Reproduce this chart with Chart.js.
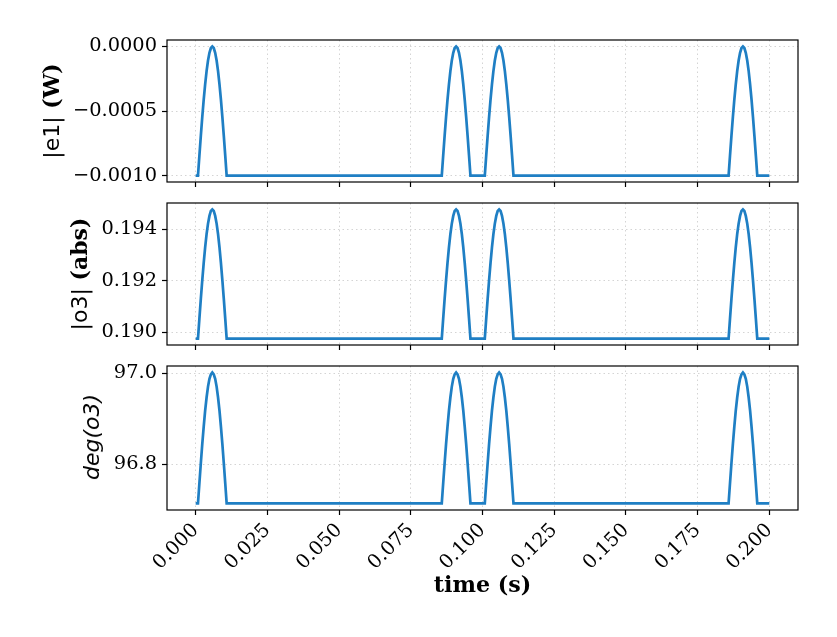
<!DOCTYPE html>
<html>
<head>
<meta charset="utf-8">
<script src="https://cdn.jsdelivr.net/npm/chart.js@4/dist/chart.umd.min.js"></script>
<style>
  body { margin: 0; background: #fff; }
  #wrap { position: relative; width: 837px; height: 637px; overflow: hidden; }
  canvas { position: absolute; left: 0; top: 0; }
  .ylab { position: absolute; white-space: nowrap; line-height: 1; font-size: 22px; color: #000;
          transform: translate(-50%, -50%) rotate(-90deg); }
  .sans { font-family: 'DejaVu Sans'; }
  .bold { font-family: 'DejaVu Serif'; font-weight: bold; }
</style>
</head>
<body>
<div id="wrap">
  <canvas id="c1" width="837" height="637"></canvas>
  <canvas id="c2" width="837" height="637"></canvas>
  <canvas id="c3" width="837" height="637"></canvas>
  <div class="ylab" style="left:51px;top:111px"><span class="sans">|e1|</span><span class="bold"> (W)</span></div>
  <div class="ylab" style="left:79px;top:274px"><span class="sans">|o3|</span><span class="bold"> (abs)</span></div>
  <div class="ylab" style="left:92px;top:437px"><span class="sans" style="font-style:italic">deg(o3)</span></div>
</div>
<script>
// time samples (s)
const time = [0,
  0.0008,0.0013,0.0018,0.0023,0.0028,0.0033,0.0038,0.0043,0.0048,0.0053,0.0058,0.0063,0.0068,0.0073,0.0078,0.0083,0.0088,0.0093,0.0098,0.0103,0.0108,
  0.0858,0.0863,0.0868,0.0873,0.0878,0.0883,0.0888,0.0893,0.0898,0.0903,0.0908,0.0913,0.0918,0.0923,0.0928,0.0933,0.0938,0.0943,0.0948,0.0953,0.0958,
  0.1008,0.1013,0.1018,0.1023,0.1028,0.1033,0.1038,0.1043,0.1048,0.1053,0.1058,0.1063,0.1068,0.1073,0.1078,0.1083,0.1088,0.1093,0.1098,0.1103,0.1108,
  0.1858,0.1863,0.1868,0.1873,0.1878,0.1883,0.1888,0.1893,0.1898,0.1903,0.1908,0.1913,0.1918,0.1923,0.1928,0.1933,0.1938,0.1943,0.1948,0.1953,0.1958,
  0.2];

const e1 = [-0.001,
  -0.001,-0.000844,-0.000691,-0.000546,-0.000412,-0.000293,-0.000191,-0.000109,-0.000049,-0.000012,0,-0.000012,-0.000049,-0.000109,-0.000191,-0.000293,-0.000412,-0.000546,-0.000691,-0.000844,-0.001,
  -0.001,-0.000844,-0.000691,-0.000546,-0.000412,-0.000293,-0.000191,-0.000109,-0.000049,-0.000012,0,-0.000012,-0.000049,-0.000109,-0.000191,-0.000293,-0.000412,-0.000546,-0.000691,-0.000844,-0.001,
  -0.001,-0.000844,-0.000691,-0.000546,-0.000412,-0.000293,-0.000191,-0.000109,-0.000049,-0.000012,0,-0.000012,-0.000049,-0.000109,-0.000191,-0.000293,-0.000412,-0.000546,-0.000691,-0.000844,-0.001,
  -0.001,-0.000844,-0.000691,-0.000546,-0.000412,-0.000293,-0.000191,-0.000109,-0.000049,-0.000012,0,-0.000012,-0.000049,-0.000109,-0.000191,-0.000293,-0.000412,-0.000546,-0.000691,-0.000844,-0.001,
  -0.001];

const o3 = [0.18976,
  0.18976,0.19054,0.19131,0.19203,0.19270,0.19330,0.19381,0.19422,0.19452,0.19471,0.19477,0.19471,0.19452,0.19422,0.19381,0.19330,0.19270,0.19203,0.19131,0.19054,0.18976,
  0.18976,0.19054,0.19131,0.19203,0.19270,0.19330,0.19381,0.19422,0.19452,0.19471,0.19477,0.19471,0.19452,0.19422,0.19381,0.19330,0.19270,0.19203,0.19131,0.19054,0.18976,
  0.18976,0.19054,0.19131,0.19203,0.19270,0.19330,0.19381,0.19422,0.19452,0.19471,0.19477,0.19471,0.19452,0.19422,0.19381,0.19330,0.19270,0.19203,0.19131,0.19054,0.18976,
  0.18976,0.19054,0.19131,0.19203,0.19270,0.19330,0.19381,0.19422,0.19452,0.19471,0.19477,0.19471,0.19452,0.19422,0.19381,0.19330,0.19270,0.19203,0.19131,0.19054,0.18976,
  0.18976];

const deg = [96.714,
  96.714,96.759,96.803,96.845,96.883,96.918,96.947,96.971,96.988,96.998,97.002,96.998,96.988,96.971,96.947,96.918,96.883,96.845,96.803,96.759,96.714,
  96.714,96.759,96.803,96.845,96.883,96.918,96.947,96.971,96.988,96.998,97.002,96.998,96.988,96.971,96.947,96.918,96.883,96.845,96.803,96.759,96.714,
  96.714,96.759,96.803,96.845,96.883,96.918,96.947,96.971,96.988,96.998,97.002,96.998,96.988,96.971,96.947,96.918,96.883,96.845,96.803,96.759,96.714,
  96.714,96.759,96.803,96.845,96.883,96.918,96.947,96.971,96.988,96.998,97.002,96.998,96.988,96.971,96.947,96.918,96.883,96.845,96.803,96.759,96.714,
  96.714];

// tick values
const xTicks = [0, 0.025, 0.05, 0.075, 0.1, 0.125, 0.15, 0.175, 0.2];
const e1Ticks = [-0.001, -0.0005, 0];
const o3Ticks = [0.190, 0.192, 0.194];
const degTicks = [96.8, 97.0];

Chart.defaults.font.family = 'DejaVu Serif';
Chart.defaults.font.size = 19.4;
Chart.defaults.color = '#000';

const lineColor = '#1f7fc4';
const gridColor = '#d4d4d4';

const boxPlugin = {
  id: 'box',
  afterDraw(chart) {
    const a = chart.chartArea, ctx = chart.ctx;
    ctx.save();
    ctx.strokeStyle = '#000';
    ctx.lineWidth = 1.2;
    ctx.strokeRect(a.left, a.top, a.right - a.left, a.bottom - a.top);
    ctx.restore();
  }
};

function fmt(v, d) {
  return v.toFixed(d).replace('-', '\u2212');
}

function makeChart(id, vals, yTicks, yMin, yMax, dec, top, xHeight, bottom, last) {
  return new Chart(document.getElementById(id), {
    type: 'line',
    data: {
      datasets: [{
        data: time.map((t, i) => ({x: t, y: vals[i]})),
        borderColor: lineColor,
        borderWidth: 2.7,
        pointRadius: 0,
        tension: 0,
        fill: false
      }]
    },
    options: {
      responsive: false,
      animation: false,
      events: [],
      layout: { padding: { top: top, right: 39, bottom: bottom, left: 0 } },
      plugins: { legend: { display: false }, tooltip: { enabled: false } },
      scales: {
        x: {
          type: 'linear',
          min: -0.01,
          max: 0.21,
          afterBuildTicks: s => { s.ticks = xTicks.map(v => ({value: v})) },
          afterFit: s => { s.height = xHeight },
          grid: { color: gridColor, lineWidth: 1, tickLength: 5, tickColor: '#000', tickWidth: 1.2 },
          border: { display: false, dash: [1.5, 3] },
          ticks: {
            display: last,
            autoSkip: false,
            minRotation: 45,
            maxRotation: 45,
            padding: 4,
            callback: v => v.toFixed(3)
          },
          title: {
            display: last,
            text: 'time (s)',
            font: { size: 22.2, weight: 'bold' },
            padding: { top: 4, bottom: 4 }
          }
        },
        y: {
          min: yMin,
          max: yMax,
          afterBuildTicks: s => { s.ticks = yTicks.map(v => ({value: v})) },
          afterFit: s => { s.width = 167 },
          grid: { color: gridColor, lineWidth: 1, tickLength: 5, tickColor: '#000', tickWidth: 1.2 },
          border: { display: false, dash: [1.5, 3] },
          ticks: { padding: 5, callback: v => fmt(v, dec) }
        }
      }
    },
    plugins: [boxPlugin]
  });
}

makeChart('c1', e1, e1Ticks, -0.00105, 0.00005, 4, 40, 455, 0, false);
makeChart('c2', o3, o3Ticks, 0.18951, 0.19502, 3, 203, 292, 0, false);
makeChart('c3', deg, degTicks, 96.6996, 97.0163, 1, 366, 94, 33, true);
</script>
</body>
</html>
